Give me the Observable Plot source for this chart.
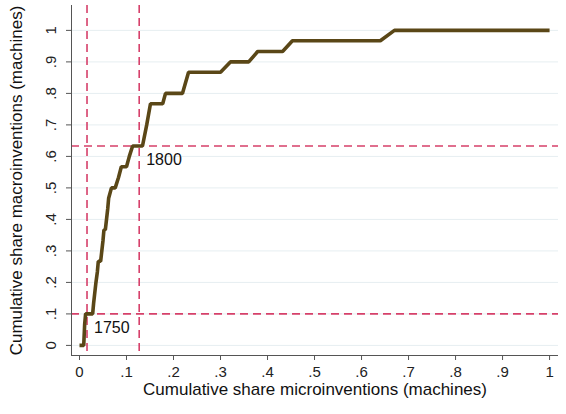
<!DOCTYPE html>
<html>
<head>
<meta charset="utf-8">
<script src="https://cdn.jsdelivr.net/npm/d3@7"></script>
<script src="https://cdn.jsdelivr.net/npm/@observablehq/plot@0.6"></script>
<style>
  html, body { margin: 0; padding: 0; background: #fff; }
  #chart { position: relative; width: 566px; height: 414px; }
  #chart svg { font-family: "Liberation Sans", Arial, sans-serif; }
  #chart g[aria-label="x-axis tick label"] text,
  #chart g[aria-label="y-axis tick label"] text { font-size: 15px; fill: #222; }
  #chart g[aria-label="x-axis label"] text,
  #chart g[aria-label="y-axis label"] text { font-size: 17px; fill: #111; }
</style>
</head>
<body>
<div id="chart"></div>
<script>
// Cumulative share of microinventions (x) vs macroinventions (y), machines
const microShare = [0, 0.009, 0.011, 0.013, 0.028, 0.030, 0.035, 0.038, 0.040, 0.045, 0.050, 0.052, 0.055, 0.060, 0.062, 0.068, 0.076, 0.083, 0.089, 0.100, 0.106, 0.113, 0.134, 0.143, 0.151, 0.177, 0.183, 0.219, 0.232, 0.300, 0.321, 0.360, 0.379, 0.432, 0.453, 0.640, 0.670, 1.0];
const macroShare = [0, 0, 0.067, 0.1, 0.1, 0.133, 0.2, 0.233, 0.267, 0.267, 0.333, 0.367, 0.367, 0.433, 0.467, 0.5, 0.5, 0.533, 0.567, 0.567, 0.6, 0.633, 0.633, 0.7, 0.767, 0.767, 0.8, 0.8, 0.867, 0.867, 0.9, 0.9, 0.933, 0.933, 0.967, 0.967, 1, 1];

// Reference markers (years)
const markerYears = ["1750", "1800"];
const markerMicro = [0.016, 0.127];
const markerMacro = [0.1, 0.633];

// Tick values
const tickValues = [0, 0.1, 0.2, 0.3, 0.4, 0.5, 0.6, 0.7, 0.8, 0.9, 1];
const tickLabel = d => d === 0 ? "0" : d === 1 ? "1" : "." + Math.round(d * 10);

const xLabel = "Cumulative share microinventions (machines)";
const yLabel = "Cumulative share macroinventions (machines)";

const data = microShare.map((x, i) => ({x, y: macroShare[i]}));
const markers = markerYears.map((year, i) => ({year, x: markerMicro[i], y: markerMacro[i]}));

const xDomain = [-0.017, 1.019];
const yDomain = [-0.032, 1.079];

const lineColor = "#5a4717";
const refColor = "#d6406a";

const chart = Plot.plot({
  width: 566,
  height: 414,
  marginLeft: 71,
  marginRight: 8,
  marginTop: 5,
  marginBottom: 59,
  x: {domain: xDomain},
  y: {domain: yDomain},
  style: {fontFamily: "Liberation Sans, Arial, sans-serif", background: "#fff", fontSize: "15px"},
  marks: [
    Plot.ruleY(tickValues, {y: d => d, stroke: "#e6eef1", strokeWidth: 1}),
    Plot.ruleX(markers, {x: "x", stroke: refColor, strokeWidth: 1.6, strokeDasharray: "8,5"}),
    Plot.ruleY(markers, {y: "y", stroke: refColor, strokeWidth: 1.6, strokeDasharray: "8,5"}),
    Plot.line(data, {x: "x", y: "y", stroke: lineColor, strokeWidth: 3.6, strokeLinejoin: "miter", strokeLinecap: "butt"}),
    Plot.text(markers, {x: "x", y: "y", text: "year", dx: 7, dy: 14, textAnchor: "start", lineAnchor: "middle", fontSize: 16, fill: "#111"}),
    Plot.ruleX([xDomain[0]], {stroke: "#555", strokeWidth: 1}),
    Plot.ruleY([yDomain[0]], {stroke: "#555", strokeWidth: 1}),
    Plot.axisX(tickValues, {
      tickFormat: tickLabel, tickSize: 5, tickPadding: 6, stroke: "#555",
      label: xLabel, labelAnchor: "center", labelOffset: 39, labelArrow: "none"
    }),
    Plot.axisY(tickValues, {
      tickFormat: tickLabel, tickSize: 5, tickPadding: 11, tickRotate: -90, stroke: "#555",
      label: yLabel, labelAnchor: "center", labelOffset: 62, labelArrow: "none"
    })
  ]
});
document.getElementById("chart").appendChild(chart);
</script>
</body>
</html>
